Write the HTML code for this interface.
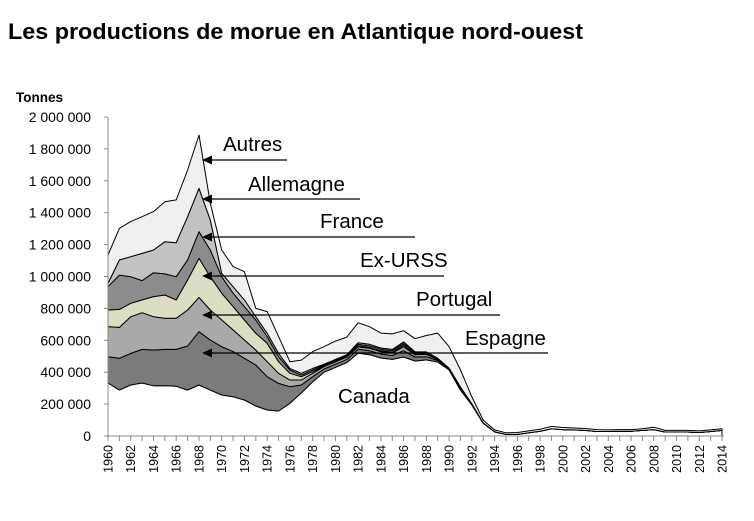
<!DOCTYPE html>
<html><head><meta charset="utf-8">
<style>
html,body{margin:0;padding:0;background:#fff;}
body{width:754px;height:516px;overflow:hidden;font-family:"Liberation Sans",Arial,sans-serif;}
svg text{font-family:"Liberation Sans",Arial,sans-serif;}
</style></head>
<body>
<svg id="chart" width="754" height="516" viewBox="0 0 754 516">
<text x="8" y="39" font-size="22.5" font-weight="bold" fill="#000" textLength="575" lengthAdjust="spacingAndGlyphs">Les productions de morue en Atlantique nord-ouest</text>
<text x="16" y="102" font-size="13.5" font-weight="bold" fill="#000">Tonnes</text>
<g id="areas"></g>
<g id="axes"></g>
<g id="labels"></g>
</svg>
<script>
const years = [];
for (let y = 1960; y <= 2014; y++) years.push(y);
const seriesNames = ["Canada","Espagne","Portugal","Ex-URSS","France","Allemagne","Autres"];
// values in thousand tonnes
const canada = [332,288,320,332,315,316,312,288,320,288,257,246,226,188,163,157,205,270,340,400,430,460,520,510,489,480,495,470,477,464,414,288,194,80,25,10,10,20,30,45,40,38,35,28,28,30,30,35,40,25,25,25,22,28,35];
const espagne = [165,199,198,211,224,227,231,276,334,314,303,283,261,257,209,173,104,50,32,20,20,20,25,25,25,25,40,25,20,10,5,8,5,2,2,0,0,0,0,0,0,0,0,0,0,0,0,0,0,0,0,0,0,0,0];
const portugal = [189,194,230,230,209,195,195,226,215,188,168,136,115,94,94,63,42,31,21,15,15,15,15,15,15,15,25,15,15,5,3,5,2,0,0,0,0,0,0,0,0,0,0,0,0,0,0,0,0,0,0,0,0,0,0];
const exUrss = [104,113,84,80,126,146,115,188,245,209,167,146,125,105,115,73,42,21,10,5,5,5,5,5,5,5,10,5,5,3,2,2,0,0,0,0,0,0,0,0,0,0,0,0,0,0,0,0,0,0,0,0,0,0,0];
const france = [146,215,167,121,150,132,146,126,167,167,104,84,84,83,42,31,21,10,11,5,5,5,10,10,10,10,10,8,5,3,1,2,0,0,0,0,0,0,0,0,0,0,0,0,0,0,0,0,0,0,0,0,0,0,0];
const allemagne = [21,95,125,171,142,202,213,271,272,188,21,41,42,21,21,21,10,11,10,5,5,5,10,10,8,8,10,5,5,3,1,2,0,0,0,0,0,0,0,0,0,0,0,0,0,0,0,0,0,0,0,0,0,0,0];
const autres = [178,198,220,230,241,251,268,293,334,105,146,126,177,52,136,105,42,83,105,110,115,110,125,110,93,97,70,82,103,157,134,107,44,18,11,10,12,12,12,15,13,12,12,12,10,10,10,10,15,10,10,10,10,10,10];
const yTicks = [0,200000,400000,600000,800000,1000000,1200000,1400000,1600000,1800000,2000000];
const yTickLabels = ["0","200 000","400 000","600 000","800 000","1 000 000","1 200 000","1 400 000","1 600 000","1 800 000","2 000 000"];

const NS = "http://www.w3.org/2000/svg";
const X0 = 108, X1 = 722, Y0 = 436, Y1 = 117;
function xs(yr){ return X0 + (yr - 1960) * (X1 - X0) / (2014 - 1960); }
function ys(t){ return Y0 - t * (Y0 - Y1) / 2000000; }
function mk(tag, attrs, parent){ const e = document.createElementNS(NS, tag); for (const k in attrs) e.setAttribute(k, attrs[k]); parent.appendChild(e); return e; }

const all = [canada, espagne, portugal, exUrss, france, allemagne, autres];
const fills = ["#ffffff","#7b7b7b","#a9a9a9","#deddc4","#8c8c8c","#c2c2c2","#f0f0f0"];
const keys = ["canada","espagne","portugal","ex-urss","france","allemagne","autres"];
const areas = document.getElementById("areas");
let base = years.map(() => 0);
all.forEach((s, i) => {
  const top = base.map((b, j) => b + s[j]);
  let d = "M" + years.map((yr, j) => xs(yr).toFixed(1) + "," + ys(top[j] * 1000).toFixed(1)).join("L");
  for (let j = years.length - 1; j >= 0; j--) d += "L" + xs(years[j]).toFixed(1) + "," + ys(base[j] * 1000).toFixed(1);
  d += "Z";
  const p = mk("path", {d: d, fill: fills[i], stroke: "#000", "stroke-width": "1", "stroke-linejoin": "round"}, areas);
  
  
  base = top;
});

const axes = document.getElementById("axes");
const yAxis = mk("line", {x1: X0, y1: Y1, x2: X0, y2: Y0, stroke: "#888", "stroke-width": "1"}, axes);


const xAxis = mk("line", {x1: X0, y1: Y0, x2: X1 + 2, y2: Y0, stroke: "#888", "stroke-width": "1"}, axes);


yTicks.forEach((t, i) => {
  mk("line", {x1: X0 - 4, y1: ys(t), x2: X0, y2: ys(t), stroke: "#888"}, axes);
  const tx = mk("text", {x: 91, y: ys(t) + 5, "font-size": "14", "text-anchor": "end", fill: "#000"}, axes);
  tx.textContent = yTickLabels[i];
  
  
});
years.forEach(yr => {
  mk("line", {x1: xs(yr), y1: Y0, x2: xs(yr), y2: Y0 + 5, stroke: "#888"}, axes);
  if (yr % 2 === 0) {
    const tx = mk("text", {x: 0, y: 0, "font-size": "12.5", "text-anchor": "end", fill: "#000", transform: "translate(" + (xs(yr) + 4.5) + "," + (Y0 + 9) + ") rotate(-90)"}, axes);
    tx.textContent = String(yr);
    
    
  }
});

const labels = document.getElementById("labels");
const ann = [
  {t:"Autres", tx:223, ty:151, ly:160, lx:287},
  {t:"Allemagne", tx:248, ty:191, ly:199, lx:360},
  {t:"France", tx:320, ty:228, ly:237, lx:415},
  {t:"Ex-URSS", tx:360, ty:267, ly:276, lx:444},
  {t:"Portugal", tx:416, ty:306, ly:315, lx:500},
  {t:"Espagne", tx:465, ty:345, ly:353, lx:548}
];
ann.forEach(a => {
  const tx = mk("text", {x: a.tx, y: a.ty, "font-size": "20.5", fill: "#000"}, labels);
  tx.textContent = a.t;
  
  
  const ln = mk("line", {x1: 210, y1: a.ly, x2: a.lx, y2: a.ly, stroke: "#000", "stroke-width": "1.2"}, labels);
  
  
  const hd = mk("polygon", {points: "202," + a.ly + " 212," + (a.ly - 4.5) + " 212," + (a.ly + 4.5), fill: "#000"}, labels);
  
  
});
const cl = mk("text", {x: 338, y: 403, "font-size": "20.5", fill: "#000"}, labels);
cl.textContent = "Canada";


</script>
</body></html>
